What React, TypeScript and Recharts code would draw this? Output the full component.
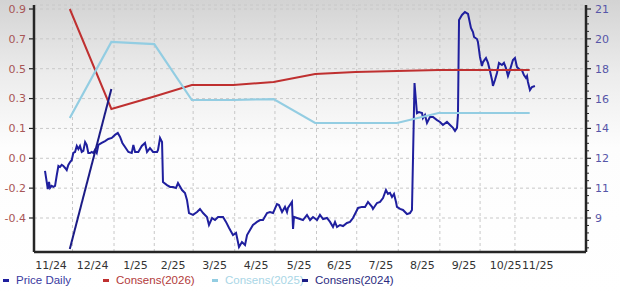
import React from 'react';
import { LineChart, Line, XAxis, YAxis, CartesianGrid, ReferenceLine } from 'recharts';

// x values are calendar days counted from 2024-11-01
const X_LABELS = ['11/24', '12/24', '1/25', '2/25', '3/25', '4/25', '5/25', '6/25', '7/25', '8/25', '9/25', '10/25', '11/25'];
const X_LABEL_DAYS = [14, 45, 77, 105, 136, 167, 199, 229, 260, 291, 322, 353, 377];
const MONTH_GRID_DAYS = [30, 61, 91, 120, 151, 181, 212, 242, 273, 304, 334, 360];
const X_DOMAIN: [number, number] = [1.3, 413];

const LEFT_LABELS = ['0.9', '0.7', '0.5', '0.3', '0.1', '0.0', '-0.2', '-0.4'];
const LEFT_TICKS = [0.9, 0.7143, 0.5286, 0.3429, 0.1571, -0.0286, -0.2143, -0.4];
const LEFT_DOMAIN: [number, number] = [-0.6115, 0.9249];

const RIGHT_LABELS = ['21', '20', '18', '16', '14', '12', '11', '9'];
const RIGHT_TICKS = [21.25, 19.5, 17.75, 16, 14.25, 12.5, 10.75, 9];
const RIGHT_DOMAIN: [number, number] = [7.007, 21.484];

const CONSENSUS_DAYS = [28, 59, 91, 119, 150, 180, 211, 241, 272, 303, 333, 371];
const CONSENS_2026 = [0.9, 0.278, 0.356, 0.427, 0.427, 0.446, 0.496, 0.508, 0.514, 0.521, 0.521, 0.521];
const CONSENS_2025 = [0.222, 0.695, 0.682, 0.334, 0.334, 0.34, 0.191, 0.191, 0.191, 0.253, 0.253, 0.253];
const CONSENS_2024_DAYS = [28, 59];
const CONSENS_2024 = [-0.593, 0.402];

// [day, price]
const PRICE_DAILY: [number, number][] = [
  [9.5, 11.76], [11.6, 10.7], [12.5, 11.11], [13.3, 10.76], [14.5, 10.88], [15.7, 10.82], [17.0, 10.88],
  [18.3, 11.52], [19.5, 12.05], [20.7, 11.99], [22.0, 12.11], [23.2, 12.05], [24.5, 11.93], [25.7, 11.81],
  [26.9, 12.11], [28.2, 12.28], [29.5, 12.4], [30.6, 12.81], [31.9, 12.87], [33.2, 13.22], [34.4, 13.04],
  [35.6, 13.22], [36.9, 12.87], [38.1, 12.93], [39.4, 13.45], [40.6, 13.28], [41.8, 12.81], [43.1, 12.81],
  [44.4, 12.87], [45.6, 12.81], [46.8, 12.99], [48.1, 12.81], [49.3, 13.28], [51.8, 13.4], [54.3, 13.51],
  [56.7, 13.63], [59.3, 13.69], [61.7, 13.87], [63.8, 13.98], [65.5, 13.75], [67.2, 13.4], [69.2, 13.16],
  [71.7, 12.87], [74.2, 12.81], [75.4, 13.28], [76.7, 12.87], [79.1, 12.87], [81.7, 13.22], [84.1, 13.4],
  [85.6, 12.87], [87.8, 13.1], [90.1, 12.87], [93.1, 12.87], [93.8, 12.99], [95.3, 13.69], [96.8, 13.45],
  [97.5, 11.11], [100.5, 10.93], [102.8, 10.82], [105.0, 10.82], [107.2, 10.76], [108.7, 11.05], [111.7, 10.64],
  [113.9, 10.47], [115.4, 10.06], [116.9, 9.29], [119.9, 9.18], [122.9, 9.35], [125.1, 9.53], [127.4, 9.29],
  [130.3, 9.06], [131.8, 8.59], [134.1, 9.0], [136.3, 8.88], [138.6, 9.06], [142.3, 9.06], [144.5, 8.77],
  [146.8, 8.41], [149.7, 8.0], [152.0, 8.12], [154.2, 7.3], [156.4, 7.59], [158.7, 7.42], [160.2, 8.0],
  [162.4, 8.3], [164.6, 8.59], [167.6, 8.77], [169.9, 8.88], [172.1, 8.88], [175.1, 9.29], [177.3, 9.35],
  [179.6, 9.29], [182.5, 9.82], [184.0, 9.76], [186.3, 9.35], [188.5, 9.65], [190.0, 9.35], [190.7, 9.59],
  [193.7, 9.94], [194.5, 8.36], [195.2, 9.06], [197.5, 9.0], [199.7, 8.94], [201.9, 8.88], [204.9, 9.18],
  [207.2, 8.88], [209.4, 9.06], [212.4, 8.88], [214.6, 9.18], [216.9, 8.94], [219.8, 9.0], [222.1, 8.77],
  [224.3, 8.47], [225.8, 8.77], [227.3, 8.47], [229.5, 8.59], [231.8, 8.53], [234.7, 8.71], [237.0, 8.77],
  [239.2, 9.0], [243.0, 9.59], [245.9, 9.65], [248.2, 9.65], [250.4, 9.94], [253.4, 9.65], [254.1, 9.53],
  [257.1, 9.88], [259.4, 9.94], [261.6, 10.17], [263.8, 10.64], [265.3, 10.41], [266.8, 10.47], [268.3, 10.23],
  [269.8, 10.41], [271.3, 9.94], [272.0, 9.65], [274.3, 9.53], [276.5, 9.47], [279.5, 9.23], [281.7, 9.29],
  [283.2, 9.47], [285.1, 16.91], [286.9, 15.15], [288.4, 15.21], [290.7, 15.15], [291.4, 14.86], [292.9, 15.04],
  [294.4, 14.57], [296.6, 14.92], [298.9, 14.92], [301.9, 14.74], [304.1, 14.63], [306.3, 14.45], [309.3, 14.63],
  [311.6, 14.45], [313.8, 14.28], [315.3, 14.1], [316.8, 14.28], [317.5, 15.04], [318.3, 20.61], [320.5, 20.9],
  [322.7, 21.07], [325.0, 20.96], [327.2, 20.14], [328.7, 19.9], [329.5, 19.61], [331.7, 19.49], [332.4, 19.32],
  [333.9, 18.44], [335.4, 17.91], [336.2, 18.14], [338.4, 18.38], [339.9, 18.09], [341.4, 17.62], [342.9, 17.09],
  [343.6, 16.74], [345.1, 17.09], [346.6, 17.5], [348.1, 18.09], [350.3, 17.97], [351.8, 18.09], [353.3, 17.79],
  [354.8, 17.32], [356.3, 17.67], [358.5, 18.26], [360.0, 18.38], [361.5, 17.85], [363.8, 17.67], [365.2, 17.67],
  [366.7, 17.38], [368.2, 17.21], [369.0, 17.32], [369.7, 16.97], [371.2, 16.5], [372.7, 16.68], [374.9, 16.74],
];

const SERIES = [
  { name: 'Price Daily', color: '#1f1f9e', text: '#3a3aa0' },
  { name: 'Consens(2026)', color: '#bf3030', text: '#b23a3a' },
  { name: 'Consens(2025)', color: '#93cde2', text: '#a9d6e6' },
  { name: 'Consens(2024)', color: '#1c1c86', text: '#2a2a80' },
];

const priceData = PRICE_DAILY.map(([d, v]) => ({ d, v }));
const c2026 = CONSENSUS_DAYS.map((d, i) => ({ d, v: CONSENS_2026[i] }));
const c2025 = CONSENSUS_DAYS.map((d, i) => ({ d, v: CONSENS_2025[i] }));
const c2024 = CONSENS_2024_DAYS.map((d, i) => ({ d, v: CONSENS_2024[i] }));

const RIGHT_ALL_TICKS: number[] = [];
{
  const step = (RIGHT_TICKS[0] - RIGHT_TICKS[1]) / 4;
  let t = RIGHT_TICKS[RIGHT_TICKS.length - 1];
  while (t - step >= RIGHT_DOMAIN[0]) t -= step;
  for (; t <= RIGHT_DOMAIN[1] + 1e-9; t += step) RIGHT_ALL_TICKS.push(Math.round(t * 10000) / 10000);
}

const AXIS_COLOR = '#262626';
const TICK_FONT = '"DejaVu Sans", Verdana, sans-serif';

const RightTick = (props: any) => {
  const { x, y, payload } = props;
  const v = payload.value;
  const idx = RIGHT_TICKS.findIndex((t) => Math.abs(t - v) < 1e-6);
  if (idx < 0) {
    return <line x1={x} x2={x + 3} y1={y} y2={y} stroke={AXIS_COLOR} strokeWidth={1} />;
  }
  return (
    <g>
      <line x1={x} x2={x + 5} y1={y} y2={y} stroke={AXIS_COLOR} strokeWidth={1.2} />
      <text x={x + 9} y={y + 4} fill="#5656a8" fontSize={11} fontFamily={TICK_FONT}>
        {RIGHT_LABELS[idx]}
      </text>
    </g>
  );
};

const LEGEND_LEFT = [3, 103, 212, 302];

export default function App() {
  return (
    <div
      style={{
        position: 'absolute',
        left: 0,
        top: 0,
        width: 620,
        height: 295,
        background: 'linear-gradient(to bottom, #d3d3d3 0%, #ececec 25%, #fdfdfd 50%, #ffffff 100%)',
        overflow: 'hidden',
      }}
    >
      <LineChart width={620} height={295} margin={{ top: 5, right: 0, left: 0, bottom: 23 }}>
        <CartesianGrid yAxisId="left" vertical={false} stroke="#c8c8c8" strokeDasharray="3 3" />
        <XAxis
          dataKey="d"
          type="number"
          domain={X_DOMAIN}
          ticks={X_LABEL_DAYS}
          interval={0}
          allowDataOverflow
          tickFormatter={(v: number) => X_LABELS[X_LABEL_DAYS.indexOf(v)] ?? ''}
          tickLine={false}
          tickSize={0}
          tickMargin={9}
          height={20}
          axisLine={{ stroke: AXIS_COLOR, strokeWidth: 2.5 }}
          tick={{ fill: '#333', fontSize: 11, fontFamily: TICK_FONT }}
        />
        <YAxis
          yAxisId="left"
          type="number"
          domain={LEFT_DOMAIN}
          ticks={LEFT_TICKS}
          interval={0}
          allowDataOverflow
          width={34}
          tickFormatter={(v: number) => LEFT_LABELS[LEFT_TICKS.findIndex((t) => Math.abs(t - v) < 1e-6)] ?? ''}
          axisLine={{ stroke: AXIS_COLOR, strokeWidth: 2.5 }}
          tickLine={{ stroke: AXIS_COLOR, strokeWidth: 1.2 }}
          tickSize={5}
          tickMargin={3}
          tick={{ fill: '#a85656', fontSize: 11, fontFamily: TICK_FONT }}
        />
        <YAxis
          yAxisId="right"
          orientation="right"
          type="number"
          domain={RIGHT_DOMAIN}
          ticks={RIGHT_ALL_TICKS}
          interval={0}
          allowDataOverflow
          width={34}
          axisLine={{ stroke: AXIS_COLOR, strokeWidth: 2.5 }}
          tickLine={false}
          tickSize={0}
          tickMargin={0}
          tick={<RightTick />}
        />
        {MONTH_GRID_DAYS.map((d) => (
          <ReferenceLine key={d} x={d} yAxisId="left" stroke="#c8c8c8" strokeDasharray="3 3" />
        ))}
        <Line
          yAxisId="right"
          data={priceData}
          dataKey="v"
          name={SERIES[0].name}
          stroke={SERIES[0].color}
          strokeWidth={2}
          dot={false}
          isAnimationActive={false}
        />
        <Line
          yAxisId="left"
          data={c2026}
          dataKey="v"
          name={SERIES[1].name}
          stroke={SERIES[1].color}
          strokeWidth={2}
          dot={false}
          isAnimationActive={false}
        />
        <Line
          yAxisId="left"
          data={c2025}
          dataKey="v"
          name={SERIES[2].name}
          stroke={SERIES[2].color}
          strokeWidth={2.2}
          dot={false}
          isAnimationActive={false}
        />
        <Line
          yAxisId="left"
          data={c2024}
          dataKey="v"
          name={SERIES[3].name}
          stroke={SERIES[3].color}
          strokeWidth={2}
          dot={false}
          isAnimationActive={false}
        />
      </LineChart>
      {SERIES.map((s, i) => (
        <div
          key={s.name}
          style={{
            position: 'absolute',
            left: LEGEND_LEFT[i],
            top: 272,
            height: 16,
            display: 'flex',
            alignItems: 'center',
            fontFamily: '"Liberation Sans", Arial, sans-serif',
            fontSize: 11.5,
            color: s.text,
            whiteSpace: 'nowrap',
          }}
        >
          <span style={{ display: 'inline-block', width: 6, height: 3, background: s.color, marginRight: 7 }} />
          <span>{s.name}</span>
        </div>
      ))}
    </div>
  );
}
